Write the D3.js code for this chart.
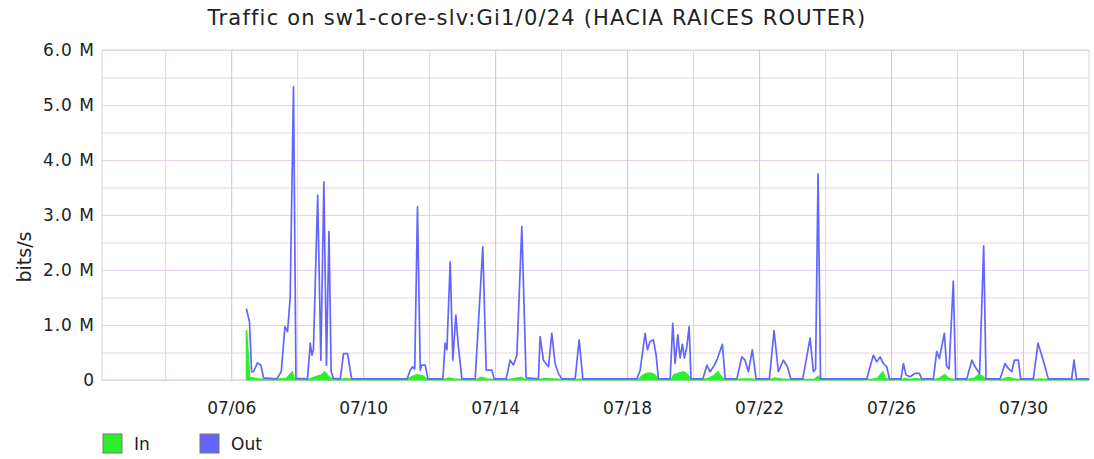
<!DOCTYPE html>
<html>
<head>
<meta charset="utf-8">
<script src="https://cdn.jsdelivr.net/npm/d3@7"></script>
<style>
  body { margin:0; background:#fff; }
  text { font-family: "DejaVu Sans", sans-serif; fill:#222; }
</style>
</head>
<body>
<div id="canvas"></div>
<script>
// hours after 07/06 00:00 and traffic in Mbit/s
var outHours = [11,13.3,14.8,16.2,19.1,21.6,23.5,33.2,36.4,39.1,41,42.9,45.3,47.1,55.5,57.5,58.7,59.8,62.9,65.2,67.4,69.3,71.1,72.7,74.4,79.3,81.7,84.6,87.6,
  128,130.2,132,133.5,135.5,137.5,138.7,141.1,143.1,
  154,155.6,156.9,159.3,161.2,163.4,165.3,167.8,
  177.5,183,185.5,189.6,191.3,
  200,202.9,205.3,207.8,211.4,214.5,
  223.5,224.7,227.1,230.8,233.2,235.6,238,240.5,
  250.2,253.1,255.8,
  295.1,297.5,301.1,302.8,304.7,307.1,309.1,310.8,
  319.3,321.2,322.9,324.9,326.5,328.2,329.7,331.4,333.1,334.5,
  343.1,346,348.4,351.5,353.7,357.3,359.3,
  367.8,371.4,373.8,376.2,379.1,381.8,
  391.5,394.9,398,401.7,404.6,407.1,
  415.8,421.1,423.5,425.1,426.9,428.7,
  462.3,467.1,469.6,472,474.4,476.9,478.8,
  487.3,489,490.9,493.8,497.5,500.6,502.3,
  510.8,513.2,515.1,518.8,520.4,522.2,525.3,527,
  535.1,538.8,541.1,544.4,547.4,549.1,
  559.3,562.9,565.3,567.8,569.7,572.6,574.3,
  583.5,586.9,589.6,592,594.4,
  611.4,613.1,614.9,624];
var outValues = [1.3,1.06,0.15,0.15,0.31,0.27,0.04,0.02,0.15,0.97,0.88,1.5,5.33,0.03,0.02,0.67,0.45,0.55,3.36,0.36,3.6,0.27,2.7,0.15,0.03,0.02,0.48,0.48,0.02,
  0.02,0.18,0.24,0.2,3.15,0.18,0.27,0.27,0.02,
  0.02,0.67,0.55,2.15,0.36,1.18,0.6,0.02,
  0.02,2.42,0.18,0.18,0.02,
  0.02,0.36,0.27,0.45,2.79,0.04,
  0.02,0.79,0.36,0.24,0.85,0.3,0.12,0.02,
  0.02,0.73,0.02,
  0.02,0.18,0.85,0.55,0.7,0.73,0.45,0.02,
  0.02,1.03,0.3,0.82,0.4,0.65,0.4,0.6,0.97,0.02,
  0.02,0.27,0.15,0.27,0.39,0.65,0.02,
  0.02,0.42,0.36,0.15,0.55,0.02,
  0.02,0.9,0.15,0.36,0.24,0.02,
  0.02,0.76,0.15,0.2,3.75,0.02,
  0.02,0.45,0.33,0.42,0.3,0.24,0.02,
  0.02,0.3,0.09,0.06,0.12,0.12,0.02,
  0.02,0.52,0.39,0.85,0.25,0.2,1.8,0.02,
  0.02,0.36,0.24,0.12,2.44,0.02,
  0.02,0.3,0.21,0.15,0.36,0.36,0.02,
  0.02,0.67,0.45,0.24,0.02,
  0.02,0.36,0.02,0.02];

var inHours = [11,11.3,13.5,20,30,40,44.5,46,56,60,66,68,71,74,80,83,87,
  128,131,135,139,143,155,158,162,167,178,182,186,191,202,206,211,214,224,228,234,240,252,254,256,
  296,299,302,305,308,311,320,322,325,329,332,334.5,343,347,351,354,357,359,368,372,378,381,392,395,400,406,424,427,429,
  465,470,474,476,479,488,490,494,498,502,511,515,519,522,526,536,541,544,547,549,560,565,570,574,585,588,594,624];
var inValues = [0.9,0.9,0.05,0.02,0.01,0.03,0.15,0.02,0.01,0.05,0.1,0.15,0.06,0.02,0.01,0.03,0.01,
  0.01,0.06,0.1,0.08,0.01,0.01,0.04,0.02,0.01,0.01,0.05,0.02,0.01,0.01,0.03,0.05,0.01,0.01,0.03,0.02,0.01,0.01,0.02,0.01,
  0.01,0.08,0.12,0.13,0.1,0.01,0.01,0.1,0.12,0.15,0.1,0.01,0.01,0.03,0.08,0.15,0.05,0.01,0.01,0.02,0.02,0.01,0.01,0.04,0.02,0.01,0.01,0.07,0.01,
  0.01,0.03,0.15,0.03,0.01,0.01,0.03,0.01,0.03,0.01,0.01,0.03,0.1,0.03,0.01,0.01,0.04,0.11,0.06,0.01,0.01,0.05,0.02,0.01,0.01,0.02,0.01,0.01];

var yTicks = [0,1,2,3,4,5,6];
var yTickLabels = ["0","1.0 M","2.0 M","3.0 M","4.0 M","5.0 M","6.0 M"];
var xLabelDays = [6,10,14,18,22,26,30];

var W = 1094, H = 459;
var m = {t:50, r:5, b:79, l:102};
var w = W - m.l - m.r, h = H - m.t - m.b;

var base = new Date(2023,6,6,0,0);
function atHour(hr){ return new Date(base.getTime() + hr*3600000); }

var svg = d3.select('#canvas').append('svg')
  .attr('width',W).attr('height',H);

var plot = svg.append('g').attr('transform','translate(' + m.l + ',' + m.t + ')');

var scaleX = d3.scaleTime()
  .domain([new Date(2023,6,2,2,0), new Date(2023,7,1,0,0)])
  .range([0,w]);
var scaleY = d3.scaleLinear().domain([0,6]).range([h,0]);

// grid
var minorY = d3.range(0,6.01,0.5);
plot.append('g').attr('class','grid-y')
  .call(d3.axisLeft(scaleY).tickValues(minorY).tickSize(-w).tickFormat(''))
  .call(function(g){ g.select('.domain').remove(); g.selectAll('line').attr('stroke','#e2d2e8'); });

var gridDays = d3.range(4,31,2).map(function(d){ return new Date(2023,6,d); });
plot.append('g').attr('class','grid-x')
  .attr('transform','translate(0,' + h + ')')
  .call(d3.axisBottom(scaleX).tickValues(gridDays).tickSize(-h).tickFormat(''))
  .call(function(g){
    g.select('.domain').remove();
    g.selectAll('line').attr('stroke', function(d){ return (d.getDate()-2)%4===0 ? '#d4c2dc' : '#e2d2e8'; });
  });

plot.append('rect').attr('width',w).attr('height',h)
  .attr('fill','none').attr('stroke','#e0d0e6');

// series
var inData = inHours.map(function(hr,i){ return {t:atHour(hr), v:inValues[i]}; });
var outData = outHours.map(function(hr,i){ return {t:atHour(hr), v:outValues[i]}; });

plot.append('path').datum(inData)
  .attr('fill','#2bef2b')
  .attr('stroke','#2bef2b').attr('stroke-width',1.2)
  .attr('d', d3.area().x(function(d){return scaleX(d.t);}).y0(h).y1(function(d){return scaleY(d.v);}));

plot.append('path').datum(outData)
  .attr('fill','none')
  .attr('stroke','#6464ff').attr('stroke-width',1.7)
  .attr('stroke-linejoin','round')
  .attr('d', d3.line().x(function(d){return scaleX(d.t);}).y(function(d){return scaleY(d.v);}));

// axes labels
var axY = plot.append('g')
  .call(d3.axisLeft(scaleY).tickValues(yTicks).tickSize(0).tickPadding(7)
    .tickFormat(function(d,i){ return yTickLabels[i]; }));
axY.select('.domain').remove();
axY.selectAll('text').style('font-size','17px').style('letter-spacing','1px').attr('fill','#222');

var axX = plot.append('g').attr('transform','translate(0,' + h + ')')
  .call(d3.axisBottom(scaleX).tickValues(xLabelDays.map(function(d){ return new Date(2023,6,d); }))
    .tickSize(0).tickPadding(22).tickFormat(d3.timeFormat('%m/%d')));
axX.select('.domain').remove();
axX.selectAll('text').style('font-size','17px').attr('fill','#222');

svg.append('text')
  .attr('x',537).attr('y',25).attr('text-anchor','middle')
  .style('font-size','21px').style('letter-spacing','1.2px')
  .text('Traffic on sw1-core-slv:Gi1/0/24 (HACIA RAICES ROUTER)');

svg.append('text')
  .attr('transform','translate(31,' + (m.t + h/2 + 42) + ') rotate(-90)')
  .attr('text-anchor','middle')
  .style('font-size','19px').text('bits/s');

// legend
var legend = [{name:'In', color:'#2bef2b', x:103}, {name:'Out', color:'#6464ff', x:200}];
var lg = svg.selectAll('.lg').data(legend).enter().append('g')
  .attr('transform', function(d){ return 'translate(' + d.x + ',434)'; });
lg.append('rect').attr('width',19).attr('height',19)
  .attr('fill', function(d){ return d.color; }).attr('stroke','#777').attr('stroke-width',1);
lg.append('text').attr('x',31).attr('y',16).style('font-size','17px')
  .text(function(d){ return d.name; });
</script>
</body>
</html>
